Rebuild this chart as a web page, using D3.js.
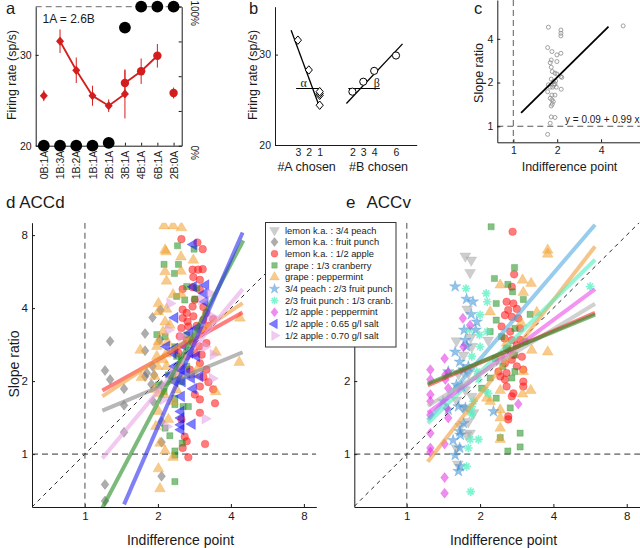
<!DOCTYPE html>
<html><head><meta charset="utf-8">
<script src="https://cdn.jsdelivr.net/npm/d3@7"></script>
<style>
body{margin:0;background:#fff;}
svg{display:block;}
</style></head><body>
<script>
// ---------------- DATA ----------------
// Panel a
const catsA = ["0B:1A","1B:3A","1B:2A","1B:1A","2B:1A","3B:1A","4B:1A","6B:1A","2B:0A"];
const diamondCats = ["0B:1A","1B:3A","1B:2A","1B:1A","2B:1A","3B:1A"];
const diamondRate = [25.5,31.5,28.3,25.5,24.4,25.7];
const diamondErr  = [0.6,1.3,1.4,1.1,0.7,2.7];
const circleCats  = ["3B:1A","4B:1A","6B:1A","2B:0A"];
const circleRate  = [26.9,28.2,29.9,25.8];
const circleErr   = [1.4,1.4,1.3,0.6];
const choiceB     = [0,0,0,0,2,85,100,100,100];
const rateTicks   = [20,30];
const pctTicks    = [0,25,50,75,100];

// Panel b  (A chosen plotted on the negative side)
const bANum  = [3,2,1,1,1,1];
const bARate = [31.6,28.3,25.5,25.7,25.9,24.4];
const bBNum  = [2,3,4,6];
const bBRate = [25.9,27.0,28.2,29.9];
const bATicks = [3,2,1];
const bBTicks = [2,3,4,6];
const fitA = {from:0.98, to:3.62, a:20.9, b:3.26};
const fitB = {from:1.45, to:6.6,  a:22.74, b:1.28};
const alphaSpan = [1.04,3.16], betaSpan = [1.63,4.52], markRate = 26.25;

// Panel c
const cPoints = [[1.74,4.81],[2.12,4.6],[2.12,4.37],[2.12,4.19],[1.72,3.48],[1.84,3.27],[1.99,3.1],[2.12,3.18],
 [1.82,2.86],[1.79,2.74],[1.99,2.79],[1.82,2.55],[1.85,2.38],[1.93,2.32],[1.99,2.29],[2.12,2.2],[2.15,2.17],
 [1.82,2.11],[1.88,2.03],[1.93,1.96],[1.74,1.93],[1.79,1.86],[1.86,1.86],[1.97,1.86],[2.13,1.8],[1.72,1.73],
 [1.84,1.64],[1.93,1.64],[1.79,1.56],[1.84,1.52],[1.88,1.48],[1.85,1.42],[1.82,1.38],[1.82,1.16],[1.93,1.15],
 [1.79,1.05],[1.72,0.88],[5.67,4.91],[1.9,1.92],[1.95,2.05]];
const cFit = {from:1.13, to:4.5, a:0.09, b:0.99};
const logTicks = [1,2,4,8];
const eYTicks = [1,2];

// Panel d (ACCd)
const dFruitPunch = [[1.27,2.92],[1.21,2.21],[1.27,2.03],[1.45,1.86],[1.45,1.59],[1.45,1.23],[1.77,3.14],[1.77,2.67],
 [1.90,3.66],[2.05,3.93],[1.77,2.09],[1.88,1.94],[1.91,1.65],[2.07,1.93],[2.07,1.12],[2.07,0.81],[1.21,0.75],
 [1.21,0.64],[2.04,2.96],[1.93,2.12],[2.07,1.36],[1.80,2.16],[1.90,2.30]];
const dApple = [[2.50,7.70],[2.91,7.46],[3.06,7.00],[2.78,5.76],[2.93,5.76],[3.06,5.79],[2.80,5.37],[2.98,5.23],
 [2.53,4.79],[2.78,4.88],[2.98,4.76],[2.84,4.33],[2.53,3.94],[2.63,3.82],[2.78,4.06],[3.08,4.04],[3.17,3.82],
 [2.53,3.64],[2.65,3.52],[2.80,3.70],[3.08,3.58],[3.38,3.60],[2.50,3.31],[2.67,3.36],[2.89,3.38],[3.08,3.24],
 [3.23,3.38],[2.46,3.06],[2.63,2.96],[2.80,2.87],[2.96,2.78],[3.17,2.87],[2.43,2.61],[2.63,2.53],[2.84,2.61],
 [3.03,2.57],[2.46,2.30],[2.71,2.23],[2.98,2.37],[3.17,2.23],[3.08,2.08],[3.23,1.98],[2.98,1.90],[3.38,1.85],
 [2.84,1.76],[3.44,1.62],[2.98,1.68],[2.98,1.48],[2.50,1.39],[2.58,1.18],[3.13,1.10],[2.63,1.13],[2.53,1.06],[2.67,0.97]];
const dCranberry = [[2.41,7.23],[2.82,7.00],[2.12,6.06],[2.43,6.06],[2.34,5.56],[2.63,4.91],[2.89,4.84],[2.58,4.32],
 [2.84,4.36],[2.39,4.47],[1.98,3.11],[2.14,3.05],[2.35,2.77],[2.63,3.10],[2.73,2.69],[2.39,2.53],[2.50,2.45],
 [2.63,2.30],[2.31,2.09],[2.50,1.99],[2.12,1.81],[2.35,1.70],[2.35,1.60],[2.54,1.57],[2.67,1.57],[2.14,1.28],
 [2.24,1.19],[2.52,1.11],[2.35,1.03],[2.35,0.99],[2.35,0.77],[2.21,2.12],[2.01,1.93]];
const dPeppermint = [[2.12,8.74],[2.31,8.74],[2.50,8.58],[2.14,6.94],[2.16,6.83],[2.49,6.51],[2.80,6.31],[2.14,5.65],
 [2.49,5.68],[2.17,5.17],[2.31,4.54],[2.50,4.54],[2.01,4.18],[2.17,3.96],[2.01,3.86],[2.14,3.51],[2.10,3.20],
 [2.24,3.40],[2.01,2.91],[2.19,2.89],[1.69,2.68],[1.98,2.78],[2.16,2.59],[1.98,2.53],[2.10,2.45],[1.99,2.30],
 [2.17,2.30],[1.71,2.07],[1.94,2.09],[2.43,2.12],[3.47,2.63],[4.36,3.64],[4.33,2.39],[3.46,1.81],[1.93,1.85],
 [2.01,1.78],[2.12,1.76],[2.39,1.84],[2.31,1.65],[2.01,1.50],[2.21,1.39],[1.96,1.30],[2.04,1.11],[2.14,1.03],
 [2.31,0.97],[2.01,0.87],[2.04,0.72],[2.84,2.12],[2.93,2.26]];
const dSalt65 = [[2.80,7.32],[3.15,4.98],[2.80,4.90],[3.11,4.60],[3.13,4.25],[2.35,3.65],[2.89,3.30],[2.71,3.16],
 [2.54,2.81],[2.35,2.73],[2.17,2.78],[2.31,2.61],[2.71,2.61],[2.89,2.53],[2.35,2.30],[2.50,2.23],[2.63,2.16],
 [2.98,2.09],[2.24,2.12],[2.35,1.99],[2.52,1.99],[2.75,2.06],[2.80,1.86],[2.50,1.73],[2.49,1.50],[2.49,1.41],
 [2.49,1.32],[2.49,1.26],[2.77,1.33]];
const dSalt70 = [[2.24,4.18],[3.28,4.60],[3.03,4.33],[3.33,3.70],[3.13,2.77],[3.38,2.57],[3.35,2.05],[3.13,1.40],
 [2.17,1.30],[2.10,1.68],[2.21,3.25],[2.50,3.06],[2.31,2.16]];
const dFits = {
  fruitPunch:[1.18,1.51,4.47,2.63], apple:[1.18,1.83,4.47,3.84], peppermint:[1.18,1.73,4.47,4.19],
  cranberry:[1.18,0.60,4.50,7.60], salt65:[1.45,0.62,4.47,8.20], salt70:[1.18,0.96,4.47,4.79]
};

// Panel e (ACCv)
const ePeach = [[1.74,6.55],[1.84,6.31],[1.82,5.60],[1.77,3.96],[1.60,2.93],[1.83,3.03],[2.16,2.95],[1.71,2.56],
 [1.85,2.78],[1.63,2.14],[1.71,2.19],[1.79,2.16],[1.63,1.87],[1.74,1.84],[1.85,1.73],[1.60,1.67],[1.71,1.55],
 [1.88,1.48],[1.79,1.36],[1.66,1.30],[1.82,1.22],[1.76,1.20],[1.60,1.06],[1.62,0.91]];
const eApple = [[2.72,8.26],[2.76,5.51],[2.70,4.90],[2.57,4.25],[2.74,4.18],[2.61,3.93],[2.83,3.97],[2.53,3.74],
 [2.70,3.68],[2.87,3.63],[2.92,3.30],[2.66,3.20],[2.52,3.00],[2.70,2.95],[2.57,2.73],[2.83,2.81],[2.74,2.56],
 [2.97,2.52],[2.38,2.19],[2.57,2.16],[3.01,2.23],[3.01,1.99],[2.57,1.90],[2.74,1.78],[2.70,1.73],[3.01,1.90],
 [2.61,1.43],[2.61,1.39],[2.53,2.03],[2.42,2.09],[2.70,2.45],[2.83,2.30],[2.53,2.37],[2.92,2.96],[2.45,3.36]];
const eCranberry = [[2.22,8.66],[2.77,5.88],[2.29,5.30],[2.60,5.01],[2.72,4.67],[3.01,4.34],[2.33,4.18],[2.33,3.57],
 [3.21,3.77],[2.20,3.20],[2.45,3.05],[2.78,3.30],[2.60,2.73],[2.78,2.56],[3.06,2.91],[2.31,2.48],[2.03,1.87],
 [2.33,1.70],[2.66,1.55],[2.92,1.22],[2.92,1.07],[2.42,1.17],[2.60,1.03],[2.20,2.06],[2.70,2.06],[2.78,2.19],[2.48,2.30]];
const ePeppermint = [[3.79,6.94],[3.79,6.68],[2.99,5.22],[3.24,5.06],[2.42,4.98],[3.01,4.64],[2.20,3.86],[3.42,3.84],
 [3.79,2.64],[3.26,2.68],[2.95,3.47],[2.45,2.53],[3.01,2.19],[3.23,1.83],[2.99,1.77],[2.42,1.83],[2.13,1.70],
 [2.20,1.65],[2.42,1.52],[2.42,1.41],[2.42,1.28],[2.42,1.15],[2.57,2.87]];
const ePeachPunch = [[1.58,4.91],[1.76,4.36],[1.87,4.25],[1.84,3.77],[1.94,3.51],[1.72,3.25],[1.92,3.25],[1.74,2.95],
 [1.58,2.64],[1.65,2.40],[1.76,2.78],[1.48,2.19],[1.71,2.23],[1.79,2.30],[1.60,1.93],[1.68,1.90],[1.41,1.65],
 [1.63,1.57],[1.48,1.52],[1.74,1.55],[1.71,1.34],[1.65,1.24],[1.66,1.20],[1.55,1.14],[1.65,1.06],[1.58,0.99],
 [1.66,0.89],[1.63,0.85],[2.27,1.50]];
const ePunchCranb = [[1.75,4.82],[2.12,4.60],[2.14,4.25],[2.00,3.75],[1.81,3.25],[1.99,3.10],[2.14,3.20],[2.00,2.77],
 [1.85,2.53],[1.94,2.19],[1.97,2.03],[2.10,1.84],[2.16,1.78],[1.88,1.65],[1.85,1.57],[1.82,1.50],[1.85,1.45],
 [1.82,1.15],[1.97,1.15],[1.79,1.06],[1.76,0.89],[1.83,0.70],[5.66,4.91]];
const eApplePepp = [[1.70,3.63],[1.82,3.40],[1.71,2.77],[1.43,2.48],[1.48,2.17],[1.44,2.12],[1.25,2.23],[1.25,2.03],
 [1.44,2.03],[1.48,1.87],[1.25,1.76],[1.25,1.65],[1.46,1.55],[1.25,1.45],[1.48,1.41],[1.25,1.22],[1.25,1.06],
 [1.25,1.02],[1.43,1.10],[1.43,0.80],[1.43,0.69],[2.87,1.61]];
const eFits = {
  peachPunch:[1.22,1.38,5.93,8.83], peppermint:[1.22,0.93,5.93,7.18], punchCranb:[1.22,1.34,5.93,6.33],
  applePepp:[1.22,1.48,5.93,4.79], peach:[1.22,1.58,5.93,4.17], apple:[1.22,1.92,5.93,3.82], cranberry:[1.22,1.95,5.93,3.76]
};

// Legend
const legendLabels = ["lemon k.a. : 3/4 peach","lemon k.a. : fruit punch","lemon k.a. : 1/2 apple","grape : 1/3 cranberry",
 "grape : peppermint","3/4 peach : 2/3 fruit punch","2/3 fruit punch : 1/3 cranb.","1/2 apple : peppermint",
 "1/2 apple : 0.65 g/l salt","1/2 apple : 0.70 g/l salt"];
const legendKeys = ["peach","fruitPunch","apple","cranberry","peppermint","peachPunch","punchCranb","applePepp","salt65","salt70"];

// ---------------- STYLE ----------------
const FONT = '"Liberation Sans", Arial, Helvetica, sans-serif';
const INK = "#1a1a1a";
const seriesStyle = {
  peach:      {shape:"triDown",  color:"#a6a6a6", line:"#b4b4b4"},
  fruitPunch: {shape:"diamond",  color:"#6a6a6a", line:"#8a8a8a"},
  apple:      {shape:"circle",   color:"#ff1010", line:"#ff3030"},
  cranberry:  {shape:"square",   color:"#1e8f1e", line:"#2a902a"},
  peppermint: {shape:"triUp",    color:"#f0a030", line:"#f0a040"},
  peachPunch: {shape:"star",     color:"#3a8fd6", line:"#58ace0"},
  punchCranb: {shape:"asterisk", color:"#55efc0", line:"#55efc0"},
  applePepp:  {shape:"diamond",  color:"#e030e0", line:"#ec50ec"},
  salt65:     {shape:"triLeft",  color:"#1010ff", line:"#3030f0"},
  salt70:     {shape:"triRight", color:"#e2a0e2", line:"#e8a8e8"}
};

const svg = d3.select("body").append("svg").attr("width",640).attr("height",548)
  .style("font-family", FONT);

function styleAxis(g, fs){
  g.attr("font-family", FONT).attr("font-size", fs);
  g.select(".domain").attr("stroke", INK).attr("stroke-width",1);
  g.selectAll(".tick line").attr("stroke", INK);
  g.selectAll(".tick text").attr("fill", INK);
}

function markerPath(shape){
  switch(shape){
    case "circle": return d3.symbol(d3.symbolCircle, 46)();
    case "square": return d3.symbol(d3.symbolSquare, 38)();
    case "diamond": return "M0,-5L3.9,0L0,5L-3.9,0Z";
    case "star": return d3.symbol(d3.symbolStar, 40)();
    case "asterisk": return "M-4.3,0L4.3,0M0,-4.3L0,4.3M-3,-3L3,3M-3,3L3,-3";
    default: return d3.symbol(d3.symbolTriangle, 50)();
  }
}
function markerRot(shape){
  return shape==="triDown"?180: shape==="triLeft"?-90: shape==="triRight"?90:0;
}
function drawMarkers(g, pts, key, xs, ys){
  const st = seriesStyle[key];
  const p = markerPath(st.shape), r = markerRot(st.shape);
  const sel = g.append("g").selectAll("path").data(pts).join("path")
    .attr("d", p)
    .attr("transform", d => `translate(${xs(d[0])},${ys(d[1])}) rotate(${r})`);
  if (st.shape === "asterisk") {
    sel.attr("fill","none").attr("stroke", st.color).attr("stroke-width",1.6).attr("stroke-opacity",0.75);
  } else {
    sel.attr("fill", st.color).attr("fill-opacity", 0.55)
       .attr("stroke", st.color).attr("stroke-opacity", 0.45).attr("stroke-width", 0.6);
  }
}
function drawFit(g, f, key, xs, ys){
  g.append("line").attr("x1", xs(f[0])).attr("y1", ys(f[1])).attr("x2", xs(f[2])).attr("y2", ys(f[3]))
   .attr("stroke", seriesStyle[key].line).attr("stroke-width", 4).attr("stroke-opacity", 0.62)
   .attr("stroke-linecap","butt");
}

// ---------------- PANEL a ----------------
const xA = d3.scalePoint().domain(catsA).range([35.7,181.7]).padding(0.5);
const yA = d3.scaleLinear().domain([20,35.3]).range([145.7,6.7]);
const yP = d3.scaleLinear().domain([0,100]).range([145.7,6.7]);
const RED = "#d41e1e";
const gA = svg.append("g");

gA.append("line").attr("x1",xA.range()[0]).attr("x2",xA.range()[1]).attr("y1",yP(100)).attr("y2",yP(100))
  .attr("stroke","#888").attr("stroke-dasharray","6,4").attr("stroke-width",1.2);

const axAL = gA.append("g").attr("transform",`translate(${xA.range()[0]},0)`)
  .call(d3.axisLeft(yA).tickValues(rateTicks).tickSize(-3).tickPadding(4).tickSizeOuter(0));
styleAxis(axAL, 10.5);
const axAR = gA.append("g").attr("transform",`translate(${xA.range()[1]},0)`)
  .call(d3.axisRight(yP).tickValues(pctTicks).tickSize(-3).tickSizeOuter(0).tickFormat(""));
styleAxis(axAR, 10.5);
[0,100].forEach(v=>{
  gA.append("text").attr("transform",`translate(${xA.range()[1]+6},${yP(v)+ (v===0?7:6.5)}) rotate(90)`)
    .attr("text-anchor","middle").attr("dy","-0.3em").attr("font-size",10).attr("fill",INK).text(v+"%");
});
const axAB = gA.append("g").attr("transform",`translate(0,${yA.range()[0]})`)
  .call(d3.axisBottom(xA).tickSize(-3).tickSizeOuter(0));
styleAxis(axAB, 10.5);
axAB.selectAll(".tick text").attr("transform","rotate(-90)").attr("text-anchor","end")
  .attr("x",-5).attr("y",0).attr("dy","0.35em");

// error bars
diamondCats.forEach((c,i)=>{
  gA.append("line").attr("x1",xA(c)).attr("x2",xA(c)).attr("y1",yA(diamondRate[i]-diamondErr[i])).attr("y2",yA(diamondRate[i]+diamondErr[i]))
    .attr("stroke",RED).attr("stroke-width",1);
});
circleCats.forEach((c,i)=>{
  gA.append("line").attr("x1",xA(c)).attr("x2",xA(c)).attr("y1",yA(circleRate[i]-circleErr[i])).attr("y2",yA(circleRate[i]+circleErr[i]))
    .attr("stroke",RED).attr("stroke-width",1);
});
const lineA = d3.line().x(d=>xA(d[0])).y(d=>yA(d[1]));
gA.append("path").attr("d", lineA(diamondCats.slice(1).map((c,i)=>[c,diamondRate[i+1]])))
  .attr("fill","none").attr("stroke",RED).attr("stroke-width",1.8);
gA.append("path").attr("d", lineA(circleCats.slice(0,3).map((c,i)=>[c,circleRate[i]])))
  .attr("fill","none").attr("stroke",RED).attr("stroke-width",1.8);
gA.selectAll(".dia").data(diamondCats).join("path")
  .attr("d","M0,-4.6L4,0L0,4.6L-4,0Z").attr("fill",RED)
  .attr("transform",(c,i)=>`translate(${xA(c)},${yA(diamondRate[i])})`);
gA.selectAll(".cir").data(circleCats).join("circle")
  .attr("cx",c=>xA(c)).attr("cy",(c,i)=>yA(circleRate[i])).attr("r",4.2).attr("fill",RED);
gA.selectAll(".ch").data(catsA).join("circle")
  .attr("cx",c=>xA(c)).attr("cy",(c,i)=>yP(choiceB[i])).attr("r",5.9).attr("fill","#000");

gA.append("text").attr("x",42.5).attr("y",22.5).attr("font-size",12).attr("fill",INK).text("1A = 2.6B");
gA.append("text").attr("transform","translate(16,75) rotate(-90)").attr("text-anchor","middle")
  .attr("font-size",12.4).attr("fill",INK).text("Firing rate (sp/s)");
svg.append("text").attr("x",6).attr("y",14).attr("font-size",16.5).attr("fill",INK).text("a");

// ---------------- PANEL b ----------------
const xB = d3.scaleLinear().domain([-5.1,7.9]).range([275,416.7]);
const yB = d3.scaleLinear().domain([20,35.3]).range([145,6.7]);
const gB = svg.append("g");
const axBL = gB.append("g").attr("transform",`translate(${xB.range()[0]},0)`)
  .call(d3.axisLeft(yB).tickValues(rateTicks).tickSize(-3).tickPadding(4).tickSizeOuter(0));
styleAxis(axBL, 10.5);
const bTickVals = bATicks.map(v=>-v).concat(bBTicks);
const axBB = gB.append("g").attr("transform",`translate(0,${yB.range()[0]})`)
  .call(d3.axisBottom(xB).tickValues(bTickVals).tickSize(0).tickPadding(4).tickSizeOuter(0).tickFormat(v=>Math.abs(v)));
styleAxis(axBB, 10.5);
gB.append("text").attr("x",xB(-2.2)).attr("y",171).attr("text-anchor","middle").attr("font-size",12.5).attr("fill",INK).text("#A chosen");
gB.append("text").attr("x",xB(4.4)).attr("y",171).attr("text-anchor","middle").attr("font-size",12.5).attr("fill",INK).text("#B chosen");
gB.append("text").attr("transform","translate(257,75) rotate(-90)").attr("text-anchor","middle")
  .attr("font-size",12.4).attr("fill",INK).text("Firing rate (sp/s)");
// fits
gB.append("line").attr("x1",xB(-fitA.to)).attr("y1",yB(fitA.a+fitA.b*fitA.to)).attr("x2",xB(-fitA.from)).attr("y2",yB(fitA.a+fitA.b*fitA.from))
  .attr("stroke","#000").attr("stroke-width",1.3);
gB.append("line").attr("x1",xB(fitB.from)).attr("y1",yB(fitB.a+fitB.b*fitB.from)).attr("x2",xB(fitB.to)).attr("y2",yB(fitB.a+fitB.b*fitB.to))
  .attr("stroke","#000").attr("stroke-width",1.3);
// alpha/beta markers
gB.append("line").attr("x1",xB(-alphaSpan[1])).attr("x2",xB(-alphaSpan[0])).attr("y1",yB(markRate)).attr("y2",yB(markRate)).attr("stroke","#000").attr("stroke-width",1);
gB.append("line").attr("x1",xB(betaSpan[0])).attr("x2",xB(betaSpan[1])).attr("y1",yB(markRate)).attr("y2",yB(markRate)).attr("stroke","#000").attr("stroke-width",1);
gB.append("text").attr("x",xB(-2.75)).attr("y",yB(markRate)-2).attr("font-family","Liberation Serif, Times New Roman, serif").attr("font-size",12).attr("fill",INK).text("α");
gB.append("text").attr("x",xB(3.95)).attr("y",yB(markRate)-2).attr("font-family","Liberation Serif, Times New Roman, serif").attr("font-size",12).attr("fill",INK).text("β");
gB.selectAll(".bd").data(bANum).join("path").attr("d","M0,-4.2L3.6,0L0,4.2L-3.6,0Z")
  .attr("fill","#fff").attr("stroke","#000").attr("stroke-width",1)
  .attr("transform",(n,i)=>`translate(${xB(-n)},${yB(bARate[i])})`);
gB.selectAll(".bc").data(bBNum).join("circle").attr("cx",n=>xB(n)).attr("cy",(n,i)=>yB(bBRate[i])).attr("r",3.6)
  .attr("fill","#fff").attr("stroke","#000").attr("stroke-width",1);
svg.append("text").attr("x",249).attr("y",14).attr("font-size",16.5).attr("fill",INK).text("b");

// ---------------- PANEL c ----------------
const xC = d3.scaleLog().domain([0.776,7.4]).range([497.3,640]);
const yC = d3.scaleLog().domain([0.776,7.4]).range([142.3,0]);
const gC = svg.append("g");
gC.append("line").attr("x1",xC(1)).attr("x2",xC(1)).attr("y1",0).attr("y2",yC.range()[0])
  .attr("stroke","#777").attr("stroke-dasharray","6,4").attr("stroke-width",1.2);
gC.append("line").attr("x1",xC.range()[0]).attr("x2",640).attr("y1",yC(1)).attr("y2",yC(1))
  .attr("stroke","#555").attr("stroke-dasharray","6,4").attr("stroke-width",1.1);
const axCL = gC.append("g").attr("transform",`translate(${xC.range()[0]},0)`)
  .call(d3.axisLeft(yC).tickValues([1,2,4]).tickFormat(d3.format("d")).tickSize(-3).tickPadding(4).tickSizeOuter(0));
styleAxis(axCL, 10.5);
const axCB = gC.append("g").attr("transform",`translate(0,${yC.range()[0]})`)
  .call(d3.axisBottom(xC).tickValues([1,2,4]).tickFormat(d3.format("d")).tickSize(-3).tickPadding(4).tickSizeOuter(0));
styleAxis(axCB, 10.5);
gC.selectAll(".cp").data(cPoints).join("circle").attr("cx",d=>xC(d[0])).attr("cy",d=>yC(d[1])).attr("r",2)
  .attr("fill","none").attr("stroke","#8a8a8a").attr("stroke-width",0.8);
const cf = x => Math.exp(cFit.a) * Math.pow(x, cFit.b);
gC.append("line").attr("x1",xC(cFit.from)).attr("y1",yC(cf(cFit.from))).attr("x2",xC(cFit.to)).attr("y2",yC(cf(cFit.to)))
  .attr("stroke","#000").attr("stroke-width",1.8);
gC.append("text").attr("x",565).attr("y",122.5).attr("font-size",10).attr("fill",INK).text("y = 0.09 + 0.99 x");
gC.append("text").attr("transform","translate(483,73) rotate(-90)").attr("text-anchor","middle").attr("font-size",12.5).attr("fill",INK).text("Slope ratio");
gC.append("text").attr("x",569.5).attr("y",171).attr("text-anchor","middle").attr("font-size",12.5).attr("fill",INK).text("Indifference point");
svg.append("text").attr("x",474).attr("y",14).attr("font-size",16.5).attr("fill",INK).text("c");

// ---------------- PANELS d & e ----------------
const xD = d3.scaleLog().domain([0.605,9]).range([32,316.3]);
const yD = d3.scaleLog().domain([0.605,9]).range([507,222.7]);
const xE = d3.scaleLog().domain([0.609,9.07]).range([354.3,640]);
const yE = yD;

svg.append("clipPath").attr("id","clipD").append("rect").attr("x",32).attr("y",222.7).attr("width",284.3).attr("height",284.3);
svg.append("clipPath").attr("id","clipE").append("rect").attr("x",354.3).attr("y",222.7).attr("width",285.7).attr("height",284.3);

function refLines(g, xs, ys){
  const d0 = xs.domain(), yd = ys.domain();
  const lo = Math.max(d0[0], yd[0]), hi = Math.min(d0[1], yd[1]);
  g.append("line").attr("x1",xs(lo)).attr("y1",ys(lo)).attr("x2",xs(hi)).attr("y2",ys(hi))
    .attr("stroke","#111").attr("stroke-dasharray","4,4").attr("stroke-width",0.9);
  g.append("line").attr("x1",xs(1)).attr("x2",xs(1)).attr("y1",ys.range()[1]).attr("y2",ys.range()[0])
    .attr("stroke","#777").attr("stroke-dasharray","6,4").attr("stroke-width",1.3);
  g.append("line").attr("x1",xs.range()[0]).attr("x2",xs.range()[1]).attr("y1",ys(1)).attr("y2",ys(1))
    .attr("stroke","#333").attr("stroke-dasharray","6,4").attr("stroke-width",1);
}
function logAxes(g, xs, ys, yTicks){
  const l = g.append("g").attr("transform",`translate(${xs.range()[0]},0)`)
    .call(d3.axisLeft(ys).tickValues(yTicks).tickFormat(d3.format("d")).tickSize(-3).tickPadding(4).tickSizeOuter(0));
  styleAxis(l, 11.5);
  const b = g.append("g").attr("transform",`translate(0,${ys.range()[0]})`)
    .call(d3.axisBottom(xs).tickValues(logTicks).tickFormat(d3.format("d")).tickSize(-3).tickPadding(5).tickSizeOuter(0));
  styleAxis(b, 11.5);
}

// d
const gD = svg.append("g");
logAxes(gD, xD, yD, logTicks);
const gDc = gD.append("g").attr("clip-path","url(#clipD)");
refLines(gDc, xD, yD);
drawMarkers(gDc, dFruitPunch, "fruitPunch", xD, yD);
drawMarkers(gDc, dApple, "apple", xD, yD);
drawMarkers(gDc, dCranberry, "cranberry", xD, yD);
drawMarkers(gDc, dPeppermint, "peppermint", xD, yD);
drawMarkers(gDc, dSalt65, "salt65", xD, yD);
drawMarkers(gDc, dSalt70, "salt70", xD, yD);
["fruitPunch","apple","peppermint","salt70","cranberry","salt65"].forEach(k=>drawFit(gDc, dFits[k], k, xD, yD));
gD.append("text").attr("x",6).attr("y",208).attr("font-size",17).attr("fill",INK).text("d ACCd");
gD.append("text").attr("transform","translate(19,364) rotate(-90)").attr("text-anchor","middle").attr("font-size",14).attr("fill",INK).text("Slope ratio");
gD.append("text").attr("x",180.5).attr("y",545).attr("text-anchor","middle").attr("font-size",14).attr("fill",INK).text("Indifference point");

// e
const gE = svg.append("g");
logAxes(gE, xE, yE, eYTicks);
const gEc = gE.append("g").attr("clip-path","url(#clipE)");
refLines(gEc, xE, yE);
drawMarkers(gEc, ePeach, "peach", xE, yE);
drawMarkers(gEc, eApple, "apple", xE, yE);
drawMarkers(gEc, eCranberry, "cranberry", xE, yE);
drawMarkers(gEc, ePeppermint, "peppermint", xE, yE);
drawMarkers(gEc, ePeachPunch, "peachPunch", xE, yE);
drawMarkers(gEc, ePunchCranb, "punchCranb", xE, yE);
drawMarkers(gEc, eApplePepp, "applePepp", xE, yE);
["peachPunch","peppermint","punchCranb","applePepp","peach","apple","cranberry"].forEach(k=>drawFit(gEc, eFits[k], k, xE, yE));
gE.append("text").attr("x",346).attr("y",208).attr("font-size",17).attr("fill",INK).text("e");
gE.append("text").attr("x",366.5).attr("y",208).attr("font-size",17).attr("fill",INK).text("ACCv");
gE.append("text").attr("x",503.5).attr("y",545).attr("text-anchor","middle").attr("font-size",14).attr("fill",INK).text("Indifference point");

// ---------------- LEGEND ----------------
const lg = svg.append("g");
lg.append("rect").attr("x",265.5).attr("y",222.5).attr("width",130.5).attr("height",124.5)
  .attr("fill","#fff").attr("stroke","#333").attr("stroke-width",1);
legendKeys.forEach((k,i)=>{
  const y = 230.3 + i*11.7;
  const st = seriesStyle[k];
  const p = lg.append("path").attr("d", markerPath(st.shape))
    .attr("transform",`translate(274.5,${y}) rotate(${markerRot(st.shape)}) scale(0.9)`);
  if (st.shape==="asterisk") p.attr("fill","none").attr("stroke",st.color).attr("stroke-width",1.5).attr("stroke-opacity",0.75);
  else p.attr("fill",st.color).attr("fill-opacity",0.55).attr("stroke",st.color).attr("stroke-opacity",0.45).attr("stroke-width",0.6);
  lg.append("text").attr("x",285).attr("y",y).attr("dy","0.35em").attr("font-size",9.3).attr("fill",INK).text(legendLabels[i]);
});
</script></body></html>
